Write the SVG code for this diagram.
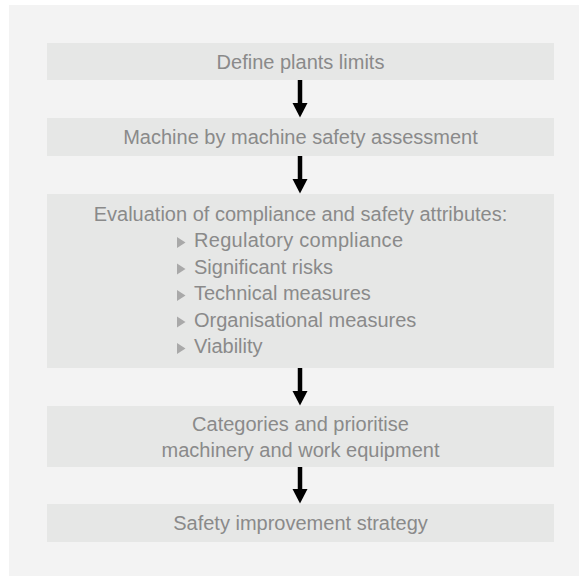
<svg xmlns="http://www.w3.org/2000/svg" width="579" height="576" viewBox="0 0 579 576">
<defs>
<style>
.panel{fill:#f3f3f3}
.box{fill:#e6e7e6}
.t{font-family:"Liberation Sans",Arial,Helvetica,sans-serif;font-size:20px;fill:#8a8a8a}
.c{text-anchor:middle}
.bul{fill:#a9a9a9}
.stem{stroke:#000;stroke-width:4.5;fill:none}
.head{fill:#000}
</style>
</defs>
<rect width="579" height="576" fill="#ffffff"/>
<rect class="panel" x="9" y="5" width="570" height="571"/>
<g id="n1"><rect class="box" x="47" y="43" width="507" height="37"/><text class="t c" x="300.5" y="68.5">Define plants limits</text></g>
<g id="n2"><rect class="box" x="47" y="118" width="507" height="38"/><text class="t c" x="300.5" y="144">Machine by machine safety assessment</text></g>
<g id="n3"><rect class="box" x="47" y="194" width="507" height="174"/>
<text class="t c" x="300.5" y="220.5">Evaluation of compliance and safety attributes:</text>
<polygon class="bul" points="177,237 185.5,242.5 177,248"/><text class="t" x="194" y="247" textLength="209">Regulatory compliance</text>
<polygon class="bul" points="177,263.5 185.5,269 177,274.5"/><text class="t" x="194" y="273.5">Significant risks</text>
<polygon class="bul" points="177,290 185.5,295.5 177,301"/><text class="t" x="194" y="300">Technical measures</text>
<polygon class="bul" points="177,316.5 185.5,322 177,327.5"/><text class="t" x="194" y="326.5">Organisational measures</text>
<polygon class="bul" points="177,343 185.5,348.5 177,354"/><text class="t" x="194" y="353">Viability</text>
</g>
<g id="n4"><rect class="box" x="47" y="406" width="507" height="61"/><text class="t c" x="300.5" y="430.5">Categories and prioritise</text><text class="t c" x="300.5" y="456.5">machinery and work equipment</text></g>
<g id="n5"><rect class="box" x="47" y="504" width="507" height="38"/><text class="t c" x="300.5" y="530">Safety improvement strategy</text></g>
<g id="connectors">
<line class="stem" x1="300" y1="80" x2="300" y2="104"/><polygon class="head" points="292.5,103 307.5,103 300,117.5"/>
<line class="stem" x1="300" y1="156" x2="300" y2="180"/><polygon class="head" points="292.5,179 307.5,179 300,193.5"/>
<line class="stem" x1="300" y1="368" x2="300" y2="392"/><polygon class="head" points="292.5,391 307.5,391 300,405.5"/>
<line class="stem" x1="300" y1="467" x2="300" y2="490"/><polygon class="head" points="292.5,489 307.5,489 300,503.5"/>
</g>
</svg>
